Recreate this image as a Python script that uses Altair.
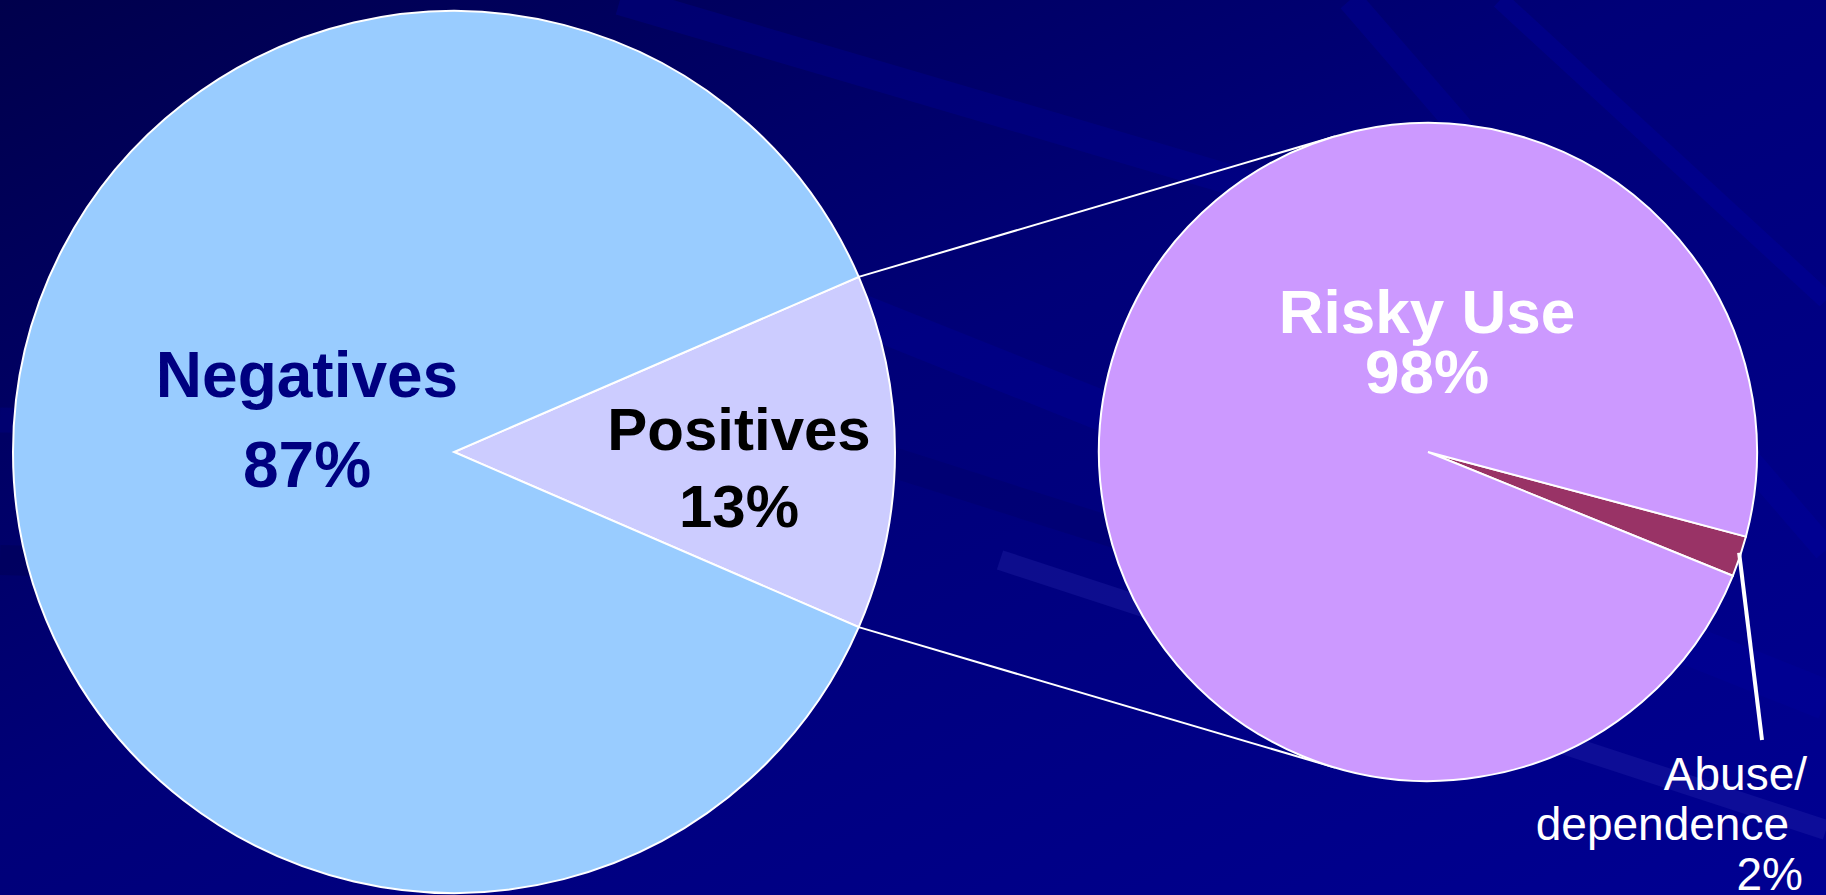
import math
import altair as alt
import pandas as pd

W, H = 1826, 895

# ---- data ----
left_cats = ["Positives", "Negatives"]
left_vals = [13, 87]
left_colors = ["#CCCCFF", "#99CCFF"]

right_cats = ["Abuse/dependence", "Risky Use"]
right_vals = [2, 98]
right_colors = ["#993366", "#CC99FF"]

# ---- layout ----
LC = (454, 452)
LR = 441
RC = (1428, 452)
RR = 329

left_total = sum(left_vals)
right_total = sum(right_vals)
# Positives slice centred pointing right (theta = pi/2)
left_start = math.pi / 2 - math.pi * left_vals[0] / left_total
# Abuse slice centred slightly below right
right_mid = math.radians(108.5)
right_start = right_mid - math.pi * right_vals[0] / right_total


def pt(c, r, th):
    return (c[0] + r * math.sin(th), c[1] - r * math.cos(th))


def tangent(p, c, r, sign):
    dx, dy = p[0] - c[0], p[1] - c[1]
    d = math.hypot(dx, dy)
    a = math.acos(r / d)
    base = math.atan2(dy, dx)
    ang = base + sign * a
    return (c[0] + r * math.cos(ang), c[1] + r * math.sin(ang))


# background
bg = alt.Chart(pd.DataFrame({"a": [0]})).mark_rect(
    color=alt.LinearGradient(
        gradient="linear",
        stops=[
            alt.GradientStop(color="#00004C", offset=0),
            alt.GradientStop(color="#000078", offset=0.45),
            alt.GradientStop(color="#000092", offset=1),
        ],
        x1=0, y1=0, x2=1, y2=1,
    )
).encode(x=alt.value(0), x2=alt.value(W), y=alt.value(0), y2=alt.value(H))

streak_df = pd.DataFrame({
    "x": [620, 700, 1000, 1350, 1500, 0, 0, 760],
    "y": [0, 250, 560, 0, 0, 420, 560, 420],
    "x2": [1300, 1826, 1826, 1826, 1826, 700, 650, 1200],
    "y2": [200, 700, 830, 550, 300, 430, 580, 560],
    "w": [30, 40, 20, 25, 18, 25, 30, 30],
    "c": ["#00009A", "#0000A0", "#2A2AAE", "#0000A6", "#0000A8", "#000090", "#00004A", "#000060"],
})
streaks = alt.Chart(streak_df).mark_rule(opacity=0.3).encode(
    x=alt.X("x:Q", scale=alt.Scale(domain=[0, W], range=[0, W]), axis=None),
    x2="x2:Q",
    y=alt.Y("y:Q", scale=alt.Scale(domain=[0, H], range=[0, H]), axis=None),
    y2="y2:Q",
    strokeWidth=alt.StrokeWidth("w:Q", scale=None),
    color=alt.Color("c:N", scale=None),
)

left_df = pd.DataFrame({"cat": left_cats, "val": left_vals, "ord": [0, 1]})
left_pie = alt.Chart(left_df).mark_arc(radius=LR, stroke="white", strokeWidth=2).encode(
    theta=alt.Theta("val:Q", stack=True,
                    scale=alt.Scale(range=[left_start, left_start + 2 * math.pi])),
    color=alt.Color("cat:N", scale=alt.Scale(domain=left_cats, range=left_colors), legend=None),
    order=alt.Order("ord:Q"),
    x=alt.value(LC[0]), y=alt.value(LC[1]),
)

right_df = pd.DataFrame({"cat": right_cats, "val": right_vals, "ord": [0, 1]})
right_pie = alt.Chart(right_df).mark_arc(radius=RR, stroke="white", strokeWidth=2).encode(
    theta=alt.Theta("val:Q", stack=True,
                    scale=alt.Scale(range=[right_start, right_start + 2 * math.pi])),
    color=alt.Color("cat:N", scale=alt.Scale(domain=right_cats, range=right_colors), legend=None),
    order=alt.Order("ord:Q"),
    x=alt.value(RC[0]), y=alt.value(RC[1]),
)

# connector lines from Positives slice edges to right pie tangents
th1 = left_start
th2 = left_start + 2 * math.pi * left_vals[0] / left_total
p1 = pt(LC, LR, th1)
p2 = pt(LC, LR, th2)
t1 = tangent(p1, RC, RR, +1)
t2 = tangent(p2, RC, RR, -1)


def rule(a, b, w=2):
    return alt.Chart(pd.DataFrame({"a": [0]})).mark_rule(color="white", strokeWidth=w).encode(
        x=alt.value(a[0]), y=alt.value(a[1]), x2=alt.value(b[0]), y2=alt.value(b[1])
    )


lead_start = pt(RC, RR - 2, right_mid - 0.01)
lead = rule(lead_start, (1762, 740), 4)


def label(text, x, y, size, color, weight="bold", align="center", font="Liberation Sans, Arial, sans-serif"):
    return alt.Chart(pd.DataFrame({"t": [text]})).mark_text(
        align=align, baseline="alphabetic", font=font, fontSize=size,
        fontWeight=weight, color=color,
    ).encode(text="t:N", x=alt.value(x), y=alt.value(y))


labels = [
    label(left_cats[1], 307, 397, 64, "#000080"),
    label(f"{left_vals[1]}%", 307, 487, 64, "#000080"),
    label(left_cats[0], 739, 450, 60, "#000000"),
    label(f"{left_vals[0]}%", 739, 527, 60, "#000000"),
    label(right_cats[1], 1427, 333, 62, "#FFFFFF"),
    label(f"{right_vals[1]}%", 1427, 393, 62, "#FFFFFF"),
]
small = "Liberation Sans, Arial, sans-serif"
labels += [
    label("Abuse/", 1807, 790, 46, "#FFFFFF", weight="normal", align="right", font=small),
    label("dependence", 1789, 840, 46, "#FFFFFF", weight="normal", align="right", font=small),
    label(f"{right_vals[0]}%", 1803, 890, 46, "#FFFFFF", weight="normal", align="right", font=small),
]

chart = alt.layer(
    bg, streaks, rule(p1, t1), rule(p2, t2), left_pie, right_pie, lead, *labels
).resolve_scale(theta="independent", color="independent").properties(
    width=W, height=H, padding=0, autosize="none", background="#000080"
).configure_view(stroke=None)

chart.save("out.html", embed_options={"renderer": "svg", "actions": False})
